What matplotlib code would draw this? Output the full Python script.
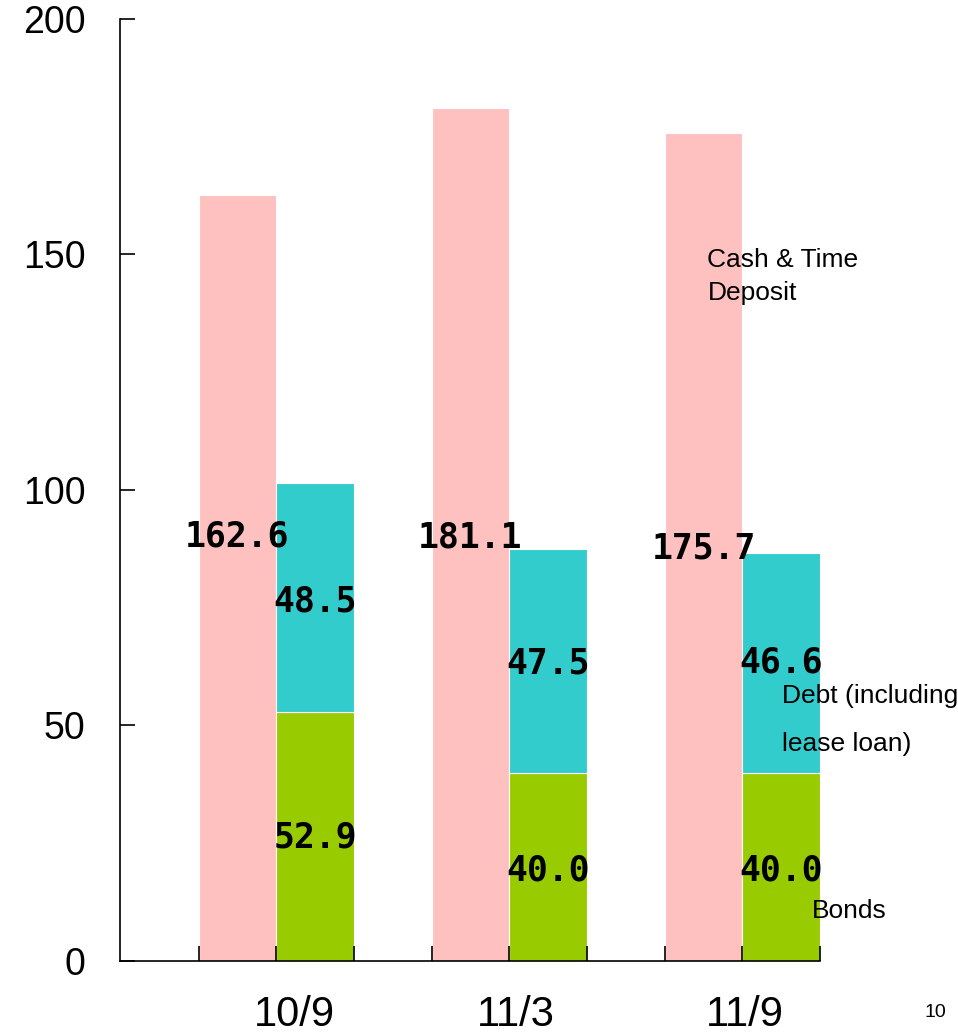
import numpy as np
import matplotlib
matplotlib.use('Agg')
import matplotlib.pyplot as plt

# Figures in the chart
periods = ['10/9', '11/3', '11/9']
cash = [162.6, 181.1, 175.7]
bonds = [52.9, 40.0, 40.0]
debt = [48.5, 47.5, 46.6]

# label heights, in chart units
cash_label_y = [90.2, 90.0, 87.5]
debt_label_y = [76.4, 63.2, 63.3]
bond_label_y = [26.3, 19.3, 19.3]
period_shift = [0.08, 0.03, 0.01]

pink = '#FFC0C0'
teal = '#33CCCC'
green = '#99CC00'

fig = plt.figure(figsize=(9.58, 10.36), dpi=100)
ax = fig.add_axes([0.1253, 0.0724, 0.856 - 0.1253, 0.9817 - 0.0724])

x = np.arange(len(periods))
w = 1 / 3

ax.bar(x - w / 2, cash, w, color=pink, edgecolor='white', linewidth=0.8)
ax.bar(x + w / 2, bonds, w, color=green, edgecolor='white', linewidth=0.8)
ax.bar(x + w / 2, debt, w, bottom=bonds, color=teal, edgecolor='white', linewidth=0.8)

mono = dict(family='DejaVu Sans Mono', weight='bold', fontsize=25,
            ha='center', va='center', color='black')
for i in range(len(periods)):
    ax.text(x[i] - w / 2, cash_label_y[i], f'{cash[i]:.1f}', **mono)
    ax.text(x[i] + w / 2, debt_label_y[i], f'{debt[i]:.1f}', **mono)
    ax.text(x[i] + w / 2, bond_label_y[i], f'{bonds[i]:.1f}', **mono)

ax.set_xlim(-0.67, 2 + w)
ax.set_ylim(0, 200)

# tick marks sit on every bar edge
edges = np.sort(np.concatenate([x - w, x, x + w]))
ax.set_xticks(edges)
ax.set_xticklabels([])
ax.tick_params(axis='x', direction='in', length=11, width=1.2, color='black')
ax.set_yticks([0, 50, 100, 150, 200])
ax.tick_params(axis='y', direction='in', length=11, width=1.2, labelsize=27, pad=25)
for lab in ax.get_yticklabels():
    lab.set_family('Liberation Sans')

for s in ['top', 'right']:
    ax.spines[s].set_visible(False)
for s in ['left', 'bottom']:
    ax.spines[s].set_linewidth(1.2)

for i, p in enumerate(periods):
    ax.text(x[i] + period_shift[i], -11.5, p, ha='center', va='center',
            fontsize=30, family='Liberation Sans', clip_on=False)

# series names
sans = dict(family='Liberation Sans', fontsize=19, ha='left', va='center')
ax.text(1.85, 148.8, 'Cash & Time', **sans)
ax.text(1.85, 141.8, 'Deposit', **sans)
ax.text(2.17, 56.2, 'Debt (including', clip_on=False, **sans)
ax.text(2.17, 46.0, 'lease loan)', **sans)
ax.text(2.3, 10.7, 'Bonds', **sans)

fig.text(0.976, 0.023, '10', ha='center', va='center', fontsize=14, family='Liberation Sans')

fig.savefig('out.png', dpi=100)
